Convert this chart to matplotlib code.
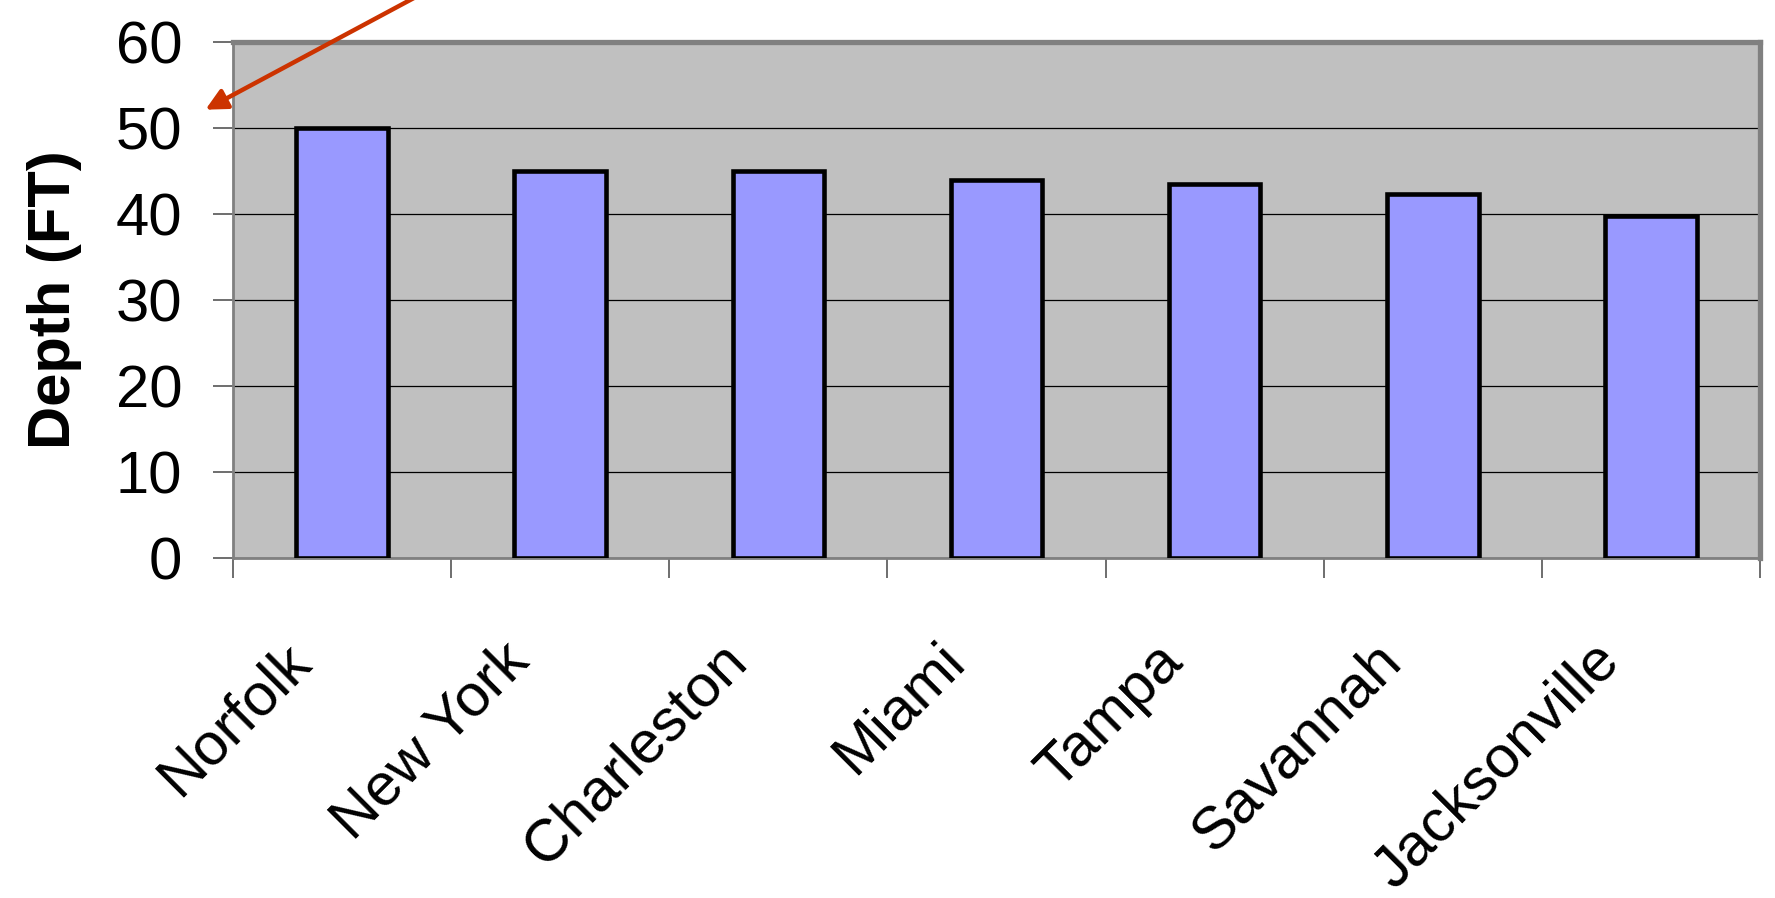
import numpy as np
import matplotlib
matplotlib.use("Agg")
import matplotlib.pyplot as plt
from matplotlib.patches import FancyArrowPatch
from matplotlib.transforms import ScaledTranslation

plt.rcParams['font.family'] = ['Liberation Sans', 'DejaVu Sans']

ports = ["Norfolk", "New York", "Charleston", "Miami", "Tampa", "Savannah", "Jacksonville"]
depth_ft = [50, 45, 45, 44, 43.5, 42.3, 39.8]
yticks = [0, 10, 20, 30, 40, 50, 60]

fig = plt.figure(figsize=(17.75, 8.98), dpi=100)
ax = fig.add_axes([233/1775, 1 - 558/898, (1760-233)/1775, (558-42)/898])
ax.set_facecolor("#c0c0c0")

x = np.arange(len(ports))
ax.bar(x, depth_ft, width=0.42, color="#9999ff", edgecolor="black", linewidth=3.3, zorder=3)

ax.set_xlim(-0.5, len(ports) - 0.5)
ax.set_ylim(0, 60)
ax.set_yticks(yticks)
ax.yaxis.grid(True, color="black", linewidth=0.9, zorder=1)
ax.set_axisbelow(True)

# category boundaries get the tick marks, labels sit at the centres
ax.set_xticks(x)
ax.set_xticks(np.arange(-0.5, len(ports), 1.0), minor=True)
ax.tick_params(axis="x", which="major", length=0, pad=54)
ax.tick_params(axis="x", which="minor", length=14.4, width=1.2, color="#555555")
ax.tick_params(axis="y", length=14.4, width=1.2, color="#555555", pad=22, labelsize=43)
ax.set_xticklabels(ports, fontsize=43, rotation=45, ha="right", va="top",
                   rotation_mode="anchor")
off = ScaledTranslation(-0.60, 0, fig.dpi_scale_trans)
for lab in ax.get_xticklabels():
    lab.set_transform(lab.get_transform() + off)

ax.set_ylabel("Depth (FT)", fontsize=43, fontweight="bold", labelpad=24)

for side in ["top", "right"]:
    ax.spines[side].set_color("#808080")
    ax.spines[side].set_linewidth(3.8)
for side in ["left", "bottom"]:
    ax.spines[side].set_color("#808080")
    ax.spines[side].set_linewidth(2.0)

arrow = FancyArrowPatch((440/1775, 1 + 16/898), (203/1775, 1 - 111/898),
                        transform=fig.transFigure, arrowstyle="-|>",
                        mutation_scale=32, color="#cc3300", linewidth=3.2)
fig.add_artist(arrow)

fig.savefig("out.png", dpi=100)
